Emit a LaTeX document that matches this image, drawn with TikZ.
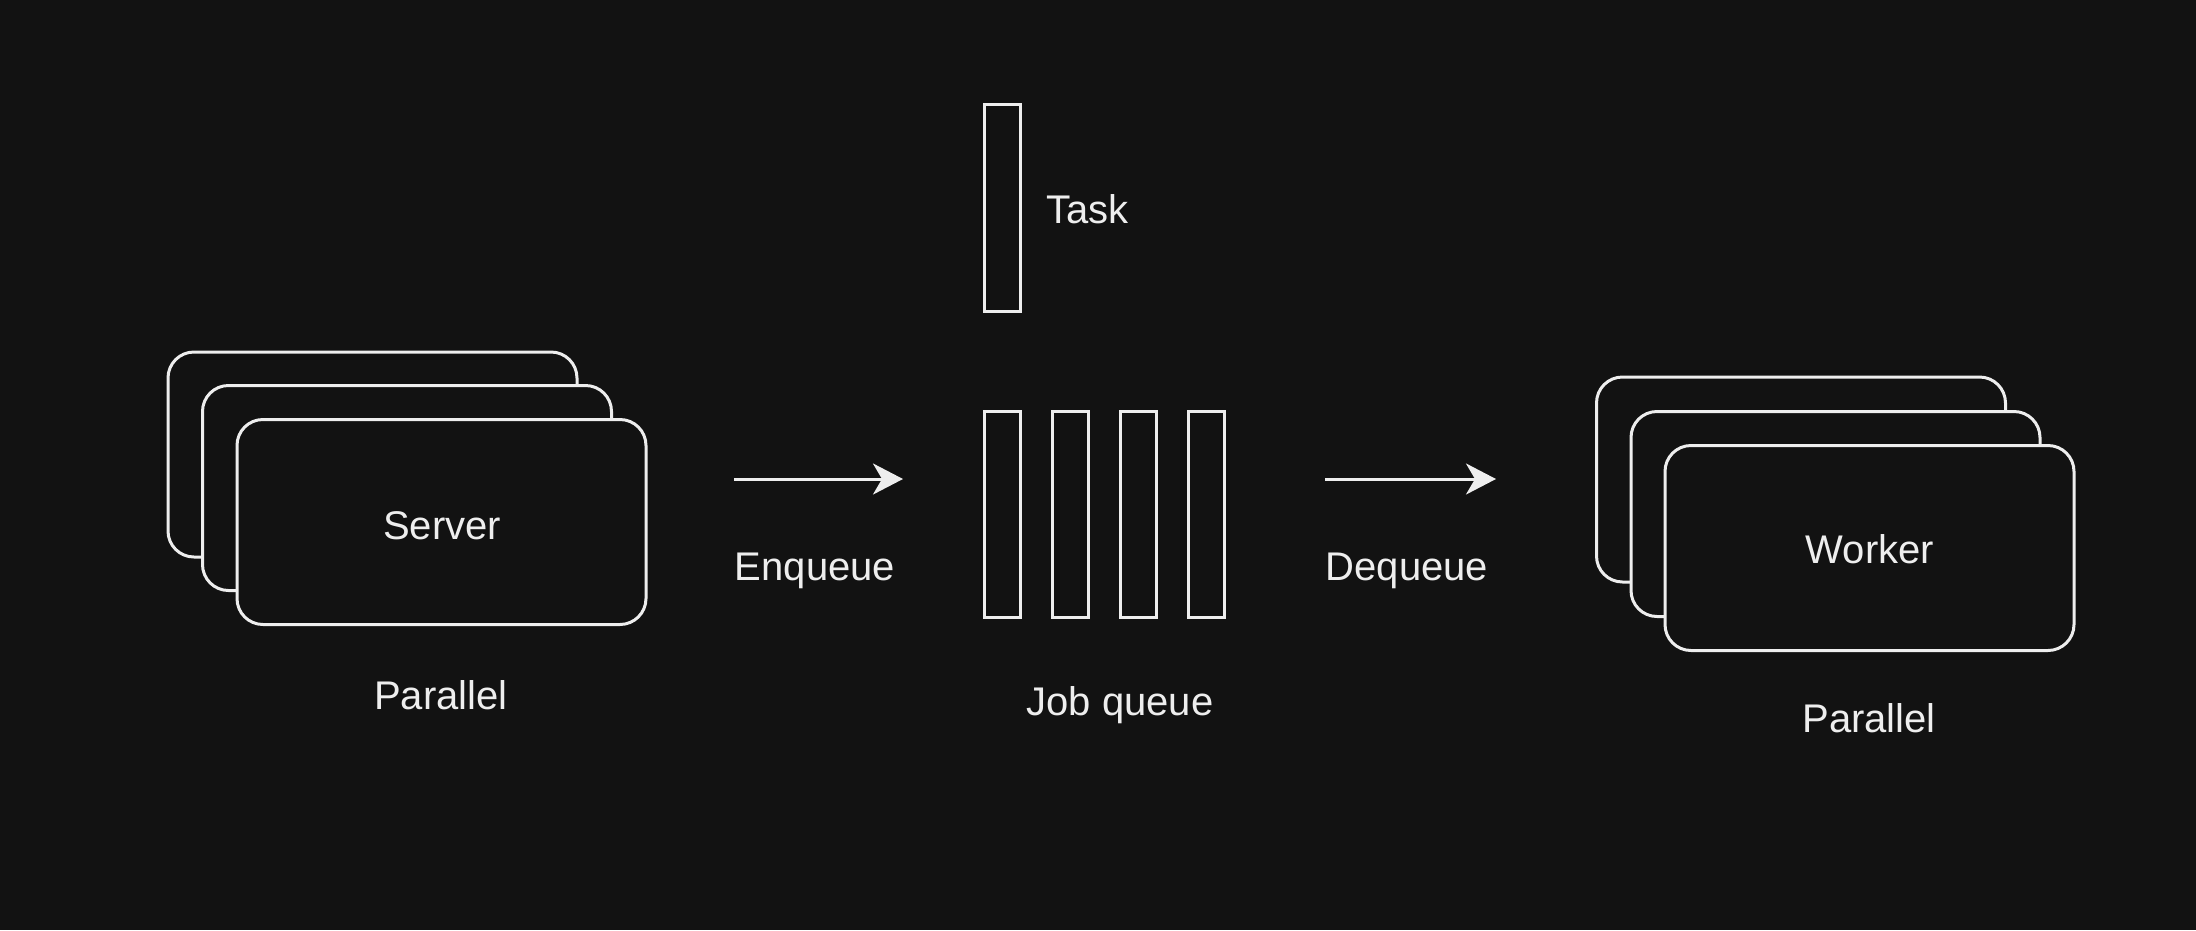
\documentclass[tikz,border=0pt]{standalone}
\usepackage{fontspec}
\setmainfont{Liberation Sans}
\usetikzlibrary{arrows.meta}
\definecolor{bgc}{RGB}{18,18,18}
\definecolor{fgc}{RGB}{238,238,238}
\begin{document}
\begin{tikzpicture}[x=1pt,y=-1pt,
  card/.style={draw=fgc, fill=bgc, line width=3pt, rounded corners=26pt,
    minimum width=409pt, minimum height=205pt, inner sep=0pt},
  slot/.style={draw=fgc, fill=bgc, line width=3pt, minimum width=36pt,
    minimum height=206pt, inner sep=0pt},
  lbl/.style={text=fgc, font=\fontsize{40}{46}\selectfont, inner sep=0pt},
  flow/.style={draw=fgc, line width=3pt,
    -{Stealth[length=30pt,width=31pt,inset=9pt]}}]
\fill[bgc] (0,0) rectangle (2196,930);
\useasboundingbox (0,0) rectangle (2196,930);
% Server stack
\node[card] (s3) at (372.5,454.5) {};
\node[card] (s2) at (407,488) {};
\node[card] (s1) at (441.5,522) {};
\node[lbl, anchor=base] (srv) at (442,539) {Server};
\node[lbl, anchor=base] (p1) at (441,709) {Parallel};
% Task
\node[slot, minimum height=207pt] (task) at (1002,207.5) {};
\node[lbl, anchor=base west] (tasklbl) at (1046,223) {Task};
% Queue
\node[slot] (q1) at (1002,514) {};
\node[slot] (q2) at (1070,514) {};
\node[slot] (q3) at (1138,514) {};
\node[slot] (q4) at (1206,514) {};
\node[lbl, anchor=base] (jq) at (1120,715) {Job queue};
% Arrows
\coordinate (e1) at (734,479);
\coordinate (e2) at (903,479);
\coordinate (d1) at (1325,479);
\coordinate (d2) at (1496,479);
\draw[flow] (e1) -- (e2);
\draw[flow] (d1) -- (d2);
\node[lbl, anchor=base] (enq) at (815,580) {Enqueue};
\node[lbl, anchor=base] (deq) at (1407,580) {Dequeue};
% Worker stack
\node[card] (w3) at (1801,479.5) {};
\node[card] (w2) at (1835.5,514) {};
\node[card] (w1) at (1869.5,548) {};
\node[lbl, anchor=base] (wrk) at (1870,563) {Worker};
\node[lbl, anchor=base] (p2) at (1869,732) {Parallel};
\end{tikzpicture}
\end{document}
